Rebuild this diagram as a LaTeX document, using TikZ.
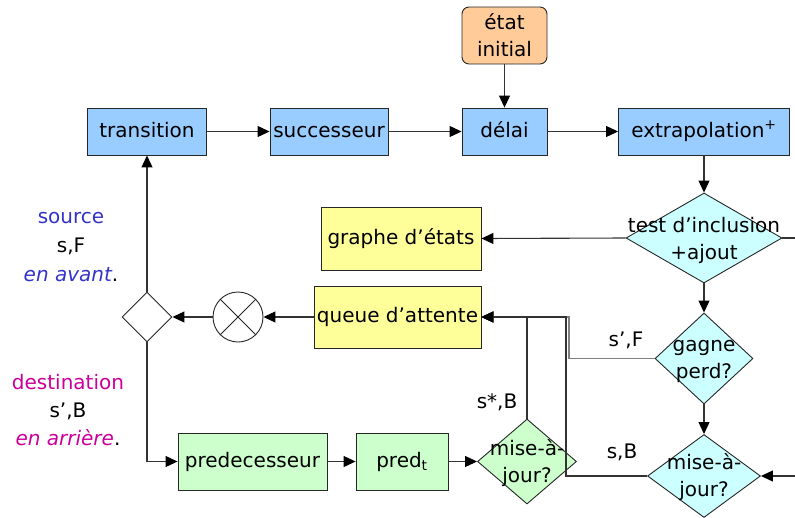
\documentclass[tikz,border=0pt]{standalone}
\usepackage{fontspec}
\setmainfont{DejaVu Sans}
\usetikzlibrary{shapes.geometric,arrows.meta}
\definecolor{boxblue}{HTML}{99CCFF}
\definecolor{boxorange}{HTML}{FFCC99}
\definecolor{boxyellow}{HTML}{FFFF99}
\definecolor{boxgreen}{HTML}{CCFFCC}
\definecolor{boxcyan}{HTML}{CCFFFF}
\definecolor{srcblue}{HTML}{3333CC}
\definecolor{dstmagenta}{HTML}{CC0099}
\definecolor{linegray}{HTML}{333333}
\begin{document}
\begin{tikzpicture}[x=1pt,y=-1pt,
  font=\fontsize{20}{27}\selectfont,
  line/.style={draw=linegray, line width=1.1pt},
  arr/.style={line, -{Triangle[length=12pt,width=11pt,color=black]}},
  box/.style={draw=black!85, line width=0.9pt, inner sep=0pt, align=center},
  one/.style={text height=15pt, text depth=4pt},
  dia/.style={diamond, draw=black!85, line width=0.9pt, inner sep=0pt},
  txt/.style={align=center, inner sep=0pt}]
\useasboundingbox (0,0) rectangle (795,517);

% top row
\node[box, fill=boxorange, rounded corners=7pt, minimum width=85pt, minimum height=57pt] (init) at (504.5,35.5) {état\\initial};
\node[box, one, fill=boxblue, minimum width=119pt, minimum height=47pt] (trans) at (147,131.5) {transition};
\node[box, one, fill=boxblue, minimum width=118pt, minimum height=47pt] (succ) at (329,131.5) {successeur};
\node[box, one, fill=boxblue, minimum width=85pt, minimum height=47pt] (delai) at (504.5,131.5) {délai};
\node[box, one, fill=boxblue, minimum width=171pt, minimum height=47pt] (extra) at (704,131.5) {extrapolation\textsuperscript{+}};

% decision column on the right
\node[dia, fill=boxcyan, minimum width=156pt, minimum height=90pt] (test) at (704,238) {};
\node[txt] (testtxt) at (704,240) {test d’inclusion\\+ajout};
\node[dia, fill=boxcyan, minimum width=98pt, minimum height=91pt] (gagne) at (704,358.5) {};
\node[txt] (gagnetxt) at (704,361) {gagne\\perd?};
\node[dia, fill=boxcyan, minimum width=113pt, minimum height=83pt] (mjb) at (704,476) {};
\node[txt] (mjbtxt) at (704,477) {mise-à-\\jour?};

% stores
\node[box, one, fill=boxyellow, minimum width=160pt, minimum height=63pt] (graphe) at (401,238.5) {graphe d’états};
\node[box, one, fill=boxyellow, minimum width=167pt, minimum height=62pt] (queue) at (397.5,317) {queue d’attente};

% selector
\node[circle, draw=black!85, line width=0.9pt, minimum size=50pt, inner sep=0pt] (cross) at (238,317) {};
\draw[draw=black!85, line width=0.9pt] (cross.north west) -- (cross.south east) (cross.north east) -- (cross.south west);
\node[dia, fill=white, minimum width=50pt, minimum height=50pt] (sel) at (147,317) {};

% backward branch
\node[box, one, fill=boxgreen, minimum width=149pt, minimum height=57pt] (pred) at (252.5,461.5) {predecesseur};
\node[box, one, fill=boxgreen, minimum width=92pt, minimum height=57pt] (predt) at (402,461.5) {pred\textsubscript{t}};
\node[dia, fill=boxgreen, minimum width=99pt, minimum height=85pt] (mjg) at (527,461.5) {};
\node[txt] (mjgtxt) at (527,463) {mise-à-\\jour?};

% junction points
\coordinate (rt1) at (795,238);
\coordinate (rt2) at (795,476);
\coordinate (jg) at (527,317);
\coordinate (jb) at (566,317);
\coordinate (jf) at (569,317);
\coordinate (bl) at (147,461.5);

% connectors
\draw[arr] (trans) -- (succ);
\draw[arr] (succ) -- (delai);
\draw[arr] (delai) -- (extra);
\draw[arr] (init) -- (delai);
\draw[arr] (extra) -- (test);
\draw[arr] (test.west) -- (graphe.east);
\draw[line] (test.east) -- (rt1);
\draw[arr] (test) -- (gagne);
\draw[arr] (gagne) -- (mjb);
\draw[arr] (rt2) -- (mjb.east);
\draw[arr, draw=black!50] (gagne.west) -| (jf) -- (queue.east);
\draw[arr] (mjb.west) -| (jb) -- (queue.east);
\draw[arr] (mjg.north) -- (jg) -- (queue.east);
\draw[arr] (queue.west) -- (cross.east);
\draw[arr] (cross.west) -- (sel.east);
\draw[arr] (sel.north) -- (trans.south);
\draw[arr] (sel.south) -- (bl) -- (pred.west);
\draw[arr] (pred) -- (predt);
\draw[arr] (predt) -- (mjg.west);

% edge labels
\node[txt] (lsf) at (626,340) {s’,F};
\node[txt] (lsb) at (497,402) {s*,B};
\node[txt] (lsb2) at (622,452) {s,B};

% direction legends
\node[txt, font=\fontsize{20}{29}\selectfont] (src) at (71,247)
  {\textcolor{srcblue}{source}\\s,F\\\textcolor{srcblue}{\itshape en avant}.};
\node[txt, font=\fontsize{20}{28}\selectfont] (dst) at (68,410)
  {\textcolor{dstmagenta}{destination}\\s’,B\\\textcolor{dstmagenta}{\itshape en arrière}.};
\end{tikzpicture}
\end{document}
